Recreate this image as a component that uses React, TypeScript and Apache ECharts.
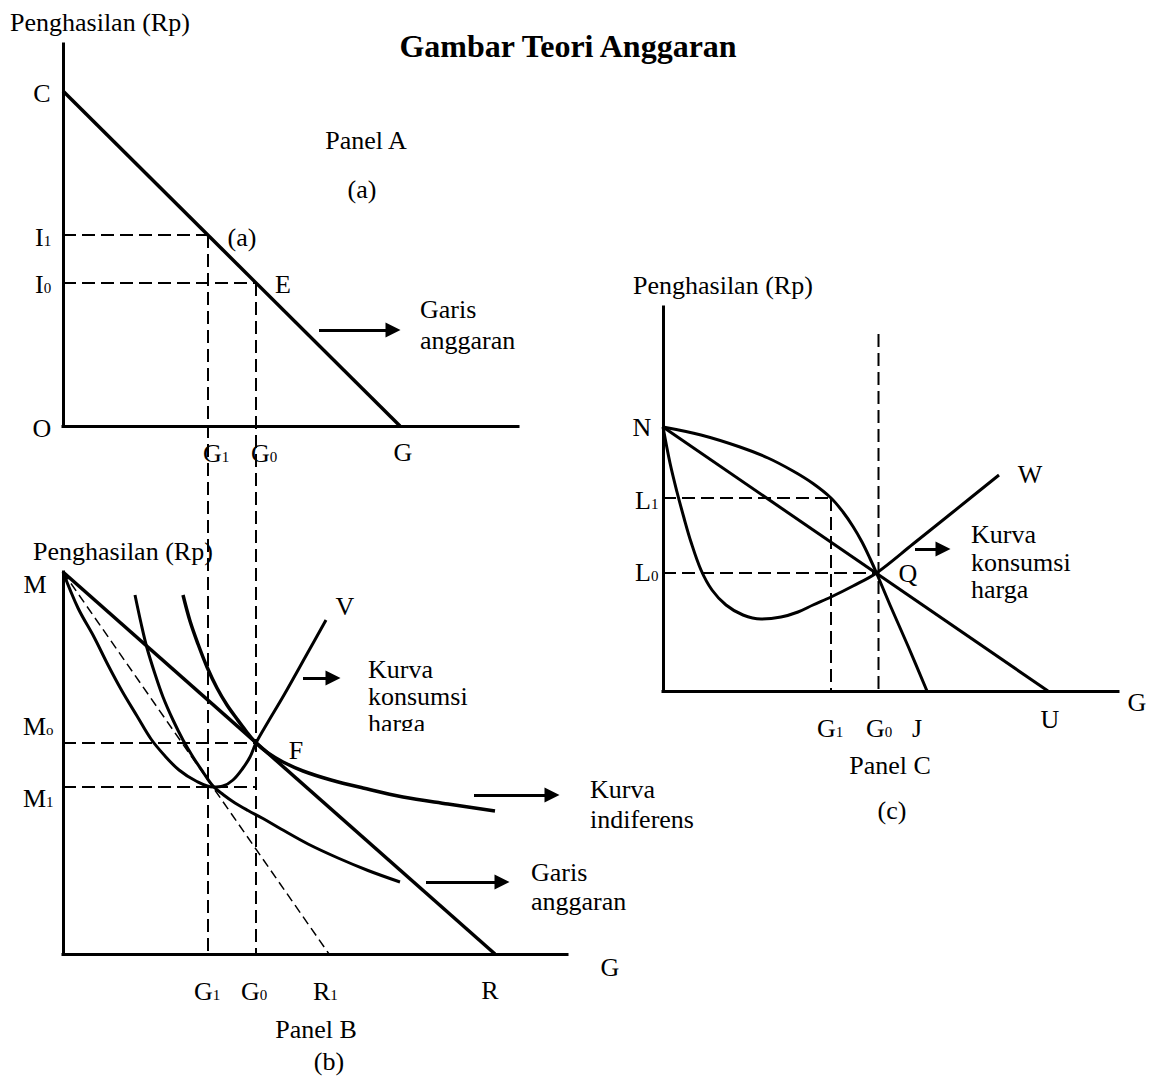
import React, { useEffect, useRef } from "react";
import * as echarts from "echarts";

const FONT_FAMILY = "Liberation Serif";

// ---------- Panel A (units measured from the axes' corner) ----------
const aAxisMax = [455, 382];
const aBudget = [[0, 335], [337, 0]];
const aGs = [145, 193]; // G1, G0
const aIs = [191, 143]; // I1, I0

// ---------- Panel B ----------
const bAxisMax = [504, 382];
const bBudget = [[0, 382], [432, 0]];
const bBudgetR1 = [[0, 382], [266, 0]];
const bGs = [145, 193];
const bMs = [211, 167]; // M0, M1
const bGTops = [719, 671]; // where the G1/G0 guide lines start (panel A's I1, I0 levels in panel B units)
const bPCC = [[0, 382], [15, 346], [31, 317], [45, 289], [59, 263], [74, 238], [88, 215], [102, 198], [116, 184], [133, 173], [150, 167], [160, 168], [170, 174], [180, 186], [187, 197], [193, 211], [205, 232], [221, 259], [244, 300], [263, 334]];
const bIC1 = [[72, 359], [78, 331], [84, 306], [92, 280], [100, 257], [110, 234], [120, 214], [130, 197], [140, 182], [150, 168], [160, 159.5], [172, 151], [185, 143.5], [200, 135.5], [218, 125], [245, 110], [275, 96], [305, 83.5], [337, 72]];
const bIC0 = [[120, 359], [127, 333], [135, 310], [144, 287], [154, 266], [164, 249], [174, 235], [183, 223], [193, 211], [205, 201], [220, 192], [240, 183], [268, 174], [300, 166], [340, 157], [385, 150], [432, 143]];

// ---------- Panel C ----------
const cAxisMax = [455, 384];
const cBudget = [[0, 264], [385, 0]];
const cLs = [193, 118]; // L1, L0
const cGs = [168, 215.5]; // G1, G0
const cG0Top = 357;
const cQ = [213.5, 118];
const cUpper = [[0, 264], [38, 256], [77, 244], [105, 233], [130, 220], [150, 207.5], [168, 193], [180, 179], [190, 164.5], [199, 149], [207, 132.5], [213.5, 118], [227, 86], [245, 45], [264, 0]];
const cLower = [[0, 264], [7, 228], [14, 199], [21, 173], [28, 149], [38, 121], [49, 101], [63, 86], [80, 76], [98, 72], [118, 74], [135, 79], [150, 86], [168, 94], [190, 105], [213.5, 118], [250, 147], [290, 179], [336, 216]];

// Arrows [from, to] per panel
const aArrow = [[256, 96], [330, 96]];
const bArrows = [
  [[240, 276], [270, 276]],
  [[411, 159], [489, 159]],
  [[363, 72], [439, 72]],
];
const cArrow = [[252, 142], [280, 142]];

const ls = (width: number, dash?: number[]) => ({
  color: "#000",
  width,
  type: dash ? dash : "solid",
  cap: "butt",
  join: "round",
  opacity: 1,
});

const line = (g: number, data: number[][], width = 3, dash?: number[], smooth: number | boolean = false) => ({
  type: "line",
  xAxisIndex: g,
  yAxisIndex: g,
  data,
  symbol: "none",
  showSymbol: false,
  clip: false,
  silent: true,
  smooth,
  lineStyle: ls(width, dash),
  z: 3,
});

const seg = (g: number, coords: number[][], width: number, dash?: number[]) => ({
  type: "lines",
  coordinateSystem: "cartesian2d",
  xAxisIndex: g,
  yAxisIndex: g,
  symbol: ["none", "none"],
  clip: false,
  silent: true,
  data: [{ coords }],
  lineStyle: { ...ls(width, dash), curveness: 0 },
  z: 3,
});

const arrow = (g: number, s: number[][]) => ({
  type: "lines",
  coordinateSystem: "cartesian2d",
  xAxisIndex: g,
  yAxisIndex: g,
  symbol: ["none", "triangle"],
  symbolSize: [14, 15],
  clip: false,
  silent: true,
  data: [{ coords: s }],
  lineStyle: { color: "#000", width: 3, opacity: 1, curveness: 0 },
  itemStyle: { color: "#000" },
  z: 3,
});

const DASH = [13, 6];

const txt = (x: number, y: number, text: string, align = "center", size = 26, weight = "normal") => ({
  type: "text",
  x,
  y,
  silent: true,
  z: 10,
  style: {
    text,
    fill: "#000",
    font: `${weight} ${size}px "${FONT_FAMILY}"`,
    align,
    verticalAlign: "middle",
  },
});

const subTxt = (x: number, y: number, main: string, sub: string) => ({
  type: "text",
  x,
  y,
  silent: true,
  z: 10,
  style: {
    text: `{m|${main}}{s|${sub}}`,
    fill: "#000",
    font: `26px "${FONT_FAMILY}"`,
    align: "left",
    verticalAlign: "middle",
    rich: {
      m: { fontSize: 26, fontFamily: FONT_FAMILY, fill: "#000", lineHeight: 28 },
      s: { fontSize: 15, fontFamily: FONT_FAMILY, fill: "#000", lineHeight: 16, verticalAlign: "bottom", padding: [0, 0, 3, 0] },
    },
  },
});

const axisDef = (g: number, max: number) => ({
  type: "value",
  gridIndex: g,
  min: 0,
  max,
  axisLine: { show: true, onZero: false, lineStyle: { color: "#000", width: 3, cap: "square" } },
  axisTick: { show: false },
  axisLabel: { show: false },
  splitLine: { show: false },
});

export default function App() {
  const ref = useRef<HTMLDivElement>(null);
  useEffect(() => {
    if (!ref.current) return;
    const chart = echarts.init(ref.current, undefined, { renderer: "svg" });
    const option: any = {
      animation: false,
      backgroundColor: "#fff",
      grid: [
        { left: 63, top: 44, width: 455, height: 382 },
        { left: 63, top: 572, width: 504, height: 382 },
        { left: 663, top: 307, width: 455, height: 384 },
      ],
      xAxis: [axisDef(0, aAxisMax[0]), axisDef(1, bAxisMax[0]), axisDef(2, cAxisMax[0])],
      yAxis: [axisDef(0, aAxisMax[1]), axisDef(1, bAxisMax[1]), axisDef(2, cAxisMax[1])],
      series: [
        // Panel A
        line(0, aBudget, 3.5),
        line(0, [[0, aIs[0]], [aGs[0], aIs[0]]], 2, DASH),
        line(0, [[0, aIs[1]], [aGs[1], aIs[1]]], 2, DASH),
        arrow(0, aArrow),
        // Panel B (guide lines from panel A down to panel B's axis)
        seg(1, [[bGs[0], bGTops[0]], [bGs[0], 0]], 2, DASH),
        seg(1, [[bGs[1], bGTops[1]], [bGs[1], 0]], 2, DASH),
        line(1, bBudget, 3.5),
        line(1, bBudgetR1, 1.5, [9, 5]),
        line(1, [[0, bMs[0]], [bGs[1], bMs[0]]], 2, DASH),
        line(1, [[0, bMs[1]], [bGs[1], bMs[1]]], 2, DASH),
        line(1, bPCC, 3, undefined, 0.35),
        line(1, bIC1, 3, undefined, 0.35),
        line(1, bIC0, 3.5, undefined, 0.35),
        ...bArrows.map((s) => arrow(1, s)),
        // Panel C
        line(2, cBudget, 3),
        line(2, [[0, cLs[0]], [cGs[0], cLs[0]]], 2, DASH),
        line(2, [[cGs[0], cLs[0]], [cGs[0], 0]], 2, DASH),
        line(2, [[0, cLs[1]], [cQ[0], cLs[1]]], 2, DASH),
        line(2, [[cGs[1], cG0Top], [cGs[1], 0]], 2, DASH),
        line(2, cUpper, 3, undefined, 0.35),
        line(2, cLower, 3, undefined, 0.35),
        arrow(2, cArrow),
      ],
      graphic: [
        txt(568, 46, "Gambar Teori Anggaran", "center", 32, "bold"),
        // Panel A
        txt(10, 22, "Penghasilan (Rp)", "left"),
        txt(42, 93, "C"),
        txt(42, 428, "O"),
        subTxt(35, 237, "I", "1"),
        subTxt(35, 284, "I", "0"),
        txt(242, 237, "(a)"),
        txt(283, 284, "E"),
        txt(366, 140, "Panel A"),
        txt(362, 189, "(a)"),
        txt(420, 309, "Garis", "left"),
        txt(420, 340, "anggaran", "left"),
        subTxt(203, 453, "G", "1"),
        subTxt(251, 453, "G", "0"),
        txt(403, 452, "G"),
        // Panel B
        txt(33, 551, "Penghasilan (Rp)", "left"),
        txt(35, 584, "M"),
        subTxt(23, 726, "M", "o"),
        subTxt(23, 798, "M", "1"),
        txt(345, 606, "V"),
        txt(296, 750, "F"),
        txt(368, 669, "Kurva", "left"),
        txt(368, 696, "konsumsi", "left"),
        txt(368, 723, "harga", "left"),
        { type: "rect", silent: true, z: 11, shape: { x: 364, y: 731, width: 80, height: 10 }, style: { fill: "#fff" } },
        txt(590, 789, "Kurva", "left"),
        txt(590, 819, "indiferens", "left"),
        txt(531, 872, "Garis", "left"),
        txt(531, 901, "anggaran", "left"),
        subTxt(194, 991, "G", "1"),
        subTxt(241, 991, "G", "0"),
        subTxt(313, 991, "R", "1"),
        txt(490, 990, "R"),
        txt(610, 967, "G"),
        txt(316, 1029, "Panel B"),
        txt(329, 1061, "(b)"),
        // Panel C
        txt(633, 285, "Penghasilan (Rp)", "left"),
        txt(642, 427, "N"),
        subTxt(635, 500, "L", "1"),
        subTxt(635, 572, "L", "0"),
        txt(1030, 474, "W"),
        txt(908, 573, "Q"),
        txt(971, 534, "Kurva", "left"),
        txt(971, 562, "konsumsi", "left"),
        txt(971, 589, "harga", "left"),
        subTxt(817, 728, "G", "1"),
        subTxt(866, 728, "G", "0"),
        txt(917, 728, "J"),
        txt(1050, 719, "U"),
        txt(1137, 702, "G"),
        txt(890, 765, "Panel C"),
        txt(892, 810, "(c)"),
      ],
    };
    chart.setOption(option);
    return () => chart.dispose();
  }, []);
  return (
    <div
      ref={ref}
      style={{ position: "absolute", left: 0, top: 0, width: 1149, height: 1076, background: "#fff" }}
    />
  );
}
